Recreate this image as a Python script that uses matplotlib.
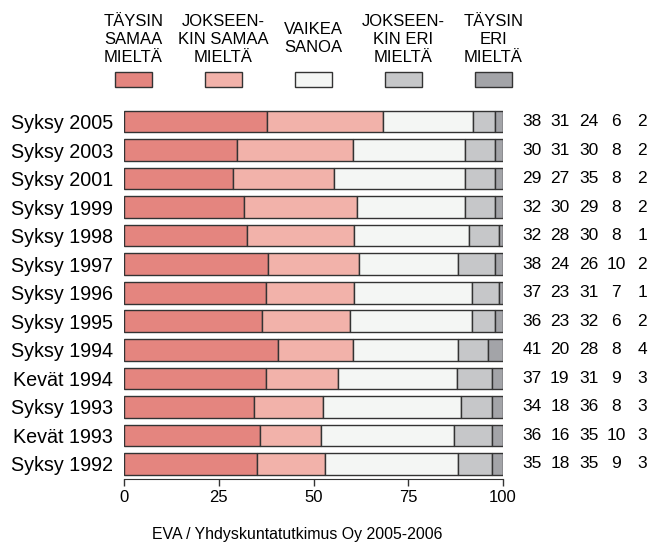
import matplotlib

matplotlib.use("Agg")
import matplotlib.pyplot as plt
import matplotlib.transforms as mtransforms
from matplotlib.patches import Rectangle
import numpy as np

plt.rcParams["font.family"] = ["Liberation Sans", "DejaVu Sans"]

CATEGORIES = ["Syksy 2005", "Syksy 2003", "Syksy 2001", "Syksy 1999", "Syksy 1998",
              "Syksy 1997", "Syksy 1996", "Syksy 1995", "Syksy 1994", "Kevät 1994",
              "Syksy 1993", "Kevät 1993", "Syksy 1992"]
LABELS = ["TÄYSIN\nSAMAA\nMIELTÄ", "JOKSEEN-\nKIN SAMAA\nMIELTÄ", "VAIKEA\nSANOA",
          "JOKSEEN-\nKIN ERI\nMIELTÄ", "TÄYSIN\nERI\nMIELTÄ"]
TAYSIN_SAMAA = [38, 30, 29, 32, 32, 38, 37, 36, 41, 37, 34, 36, 35]
JOKSEENKIN_SAMAA = [31, 31, 27, 30, 28, 24, 23, 23, 20, 19, 18, 16, 18]
VAIKEA = [24, 30, 35, 29, 30, 26, 31, 32, 28, 31, 36, 35, 35]
JOKSEENKIN_ERI = [6, 8, 8, 8, 8, 10, 7, 6, 8, 9, 8, 10, 9]
TAYSIN_ERI = [2, 2, 2, 2, 1, 2, 1, 2, 4, 3, 3, 3, 3]
COLORS = ["#E4857F", "#F2B2AA", "#F4F6F4", "#C6C7C9", "#A3A4A8"]
EDGE = "#333333"

vals = np.array([TAYSIN_SAMAA, JOKSEENKIN_SAMAA, VAIKEA, JOKSEENKIN_ERI, TAYSIN_ERI], float)
shares = vals / vals.sum(axis=0) * 100  # bars are drawn to full 100
y = np.arange(len(CATEGORIES))

fig = plt.figure(figsize=(6.52, 5.44), dpi=100)
ax = fig.add_axes([124 / 652, 65 / 544, 379 / 652, 379 / 544])

left = np.zeros(len(CATEGORIES))
for k in range(5):
    ax.barh(y, shares[k], left=left, height=0.757, color=COLORS[k],
            edgecolor=EDGE, linewidth=1.0)
    left += shares[k]

ax.set_xlim(0, 100)
ax.set_ylim(12.526, -0.753)
ax.set_yticks(y)
ax.set_yticklabels(CATEGORIES, fontsize=14.2)
ax.tick_params(axis="y", length=0, pad=8)
ax.set_xticks([0, 25, 50, 75, 100])
ax.tick_params(axis="x", direction="out", length=5, width=1, colors=EDGE,
               labelsize=12, labelcolor="black", pad=3)
for s in ["top", "right", "left"]:
    ax.spines[s].set_visible(False)
ax.spines["bottom"].set_color(EDGE)
ax.spines["bottom"].set_bounds(0, 100)

# numbers to the right of each bar
num_x = [107.7, 115.0, 122.7, 129.8, 136.7]
for k in range(5):
    for i in range(len(CATEGORIES)):
        ax.text(num_x[k], y[i], f"{int(vals[k, i])}", ha="center", va="center",
                fontsize=12.5, clip_on=False)

# legend across the top
trans = mtransforms.blended_transform_factory(ax.transData, fig.transFigure)
leg_x = [2.5, 26.25, 50, 73.75, 97.5]
for k in range(5):
    ax.add_patch(Rectangle((leg_x[k] - 5, 457 / 544), 10, 15 / 544, transform=trans,
                           facecolor=COLORS[k], edgecolor=EDGE, linewidth=1.0,
                           clip_on=False))
    ax.text(leg_x[k], 505 / 544, LABELS[k], transform=trans, ha="center", va="center",
            fontsize=12, linespacing=1.25)

fig.text(297 / 652, 10 / 544, "EVA / Yhdyskuntatutkimus Oy 2005-2006",
         ha="center", va="center", fontsize=11.4)

fig.savefig("out.png", dpi=100)
